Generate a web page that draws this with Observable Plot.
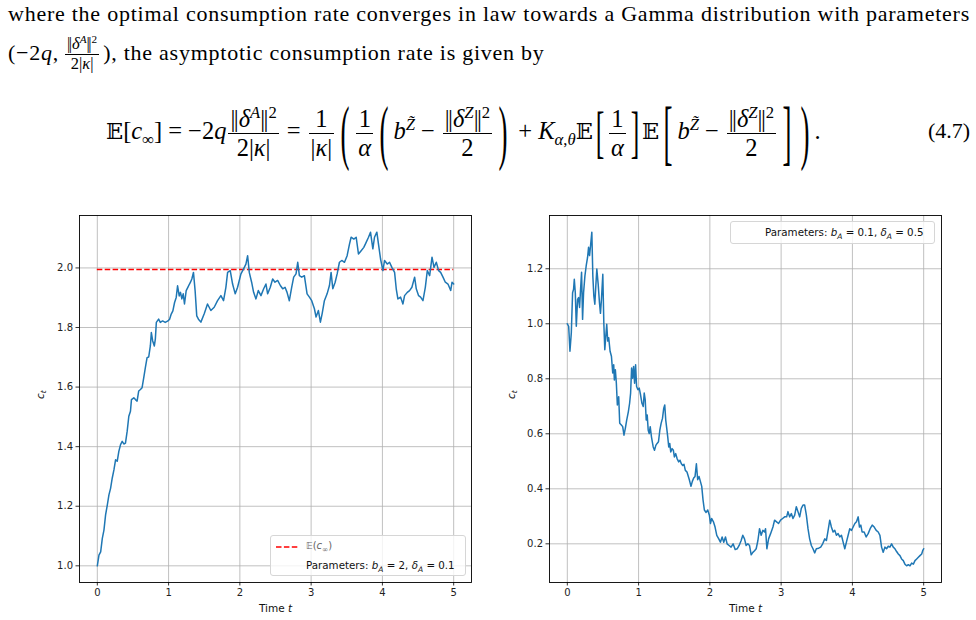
<!DOCTYPE html>
<html>
<head>
<meta charset="utf-8">
<script src="https://cdn.jsdelivr.net/npm/d3@7"></script>
<script src="https://cdn.jsdelivr.net/npm/@observablehq/plot@0.6"></script>
<style>
  body { margin: 0; width: 976px; height: 620px; position: relative; overflow: hidden; background: #fff; color: #000; font-family: "Liberation Serif", "DejaVu Serif", serif; }
  #l1 { position: absolute; left: 8px; top: 1px; width: 962px; font-size: 22px; letter-spacing: 0.75px; line-height: 26px; text-align: justify; text-align-last: justify; }
  #l2 { position: absolute; left: 8px; top: 35px; font-size: 22px; letter-spacing: 0.75px; line-height: 26px; white-space: nowrap; }
  #eq { position: absolute; left: 106px; top: 86px; height: 90px; font-size: 24.5px; white-space: nowrap; line-height: 90px; }
  #eqn { position: absolute; left: 928px; top: 86px; line-height: 90px; font-size: 22px; }
  .frac { display: inline-block; vertical-align: middle; text-align: center; margin: 0 2px; line-height: 1.15; }
  .frac > span { display: block; padding: 0 2px; }
  .frac > span.d { border-top: 1.2px solid #000; }
  .frac.sm { font-size: 16.5px; letter-spacing: 0; margin: 0 4px 0 6px; }
  .nm { letter-spacing: -1.6px; margin-right: 1.6px; }
  sup, sub { font-size: 0.68em; line-height: 0; }
  .bb { font-family: "DejaVu Serif", "DejaVu Sans", serif; font-size: 0.92em; }
  .big { display: inline-block; vertical-align: middle; transform: scale(1.1, 2.95); margin: 0 5px; line-height: 1; }
  .mid { display: inline-block; vertical-align: middle; transform: scale(1.05, 2.3); margin: 0 3px; line-height: 1; }
  .op { margin: 0 6px; }
  .chart { position: absolute; top: 200px; }
  .legend { position: absolute; border: 1px solid #d6d6d6; border-radius: 3px; background: rgba(255,255,255,0.8); font-family: "DejaVu Sans", sans-serif; font-size: 10.3px; color: #111; }
  .legend i { font-style: oblique; }
  .legend sub { font-size: 7.5px; }
  .row { position: absolute; white-space: nowrap; line-height: 12px; }
</style>
</head>
<body>
<div id="l1">where the optimal consumption rate converges in law towards a Gamma distribution with parameters</div>
<div id="l2">(−2<i>q</i>,<span class="frac sm"><span><span class="nm">||</span><i>δ</i><sup><i>A</i></sup><span class="nm">||</span><sup>2</sup></span><span class="d">2|<i>κ</i>|</span></span>), the asymptotic consumption rate is given by</div>
<div id="eq"><span class="bb">𝔼</span>[<i>c</i><sub>∞</sub>]<span class="op">=</span>−2<i>q</i><span class="frac"><span><span class="nm">||</span><i>δ</i><sup><i>A</i></sup><span class="nm">||</span><sup>2</sup></span><span class="d">2|<i>κ</i>|</span></span><span class="op">=</span><span class="frac"><span>1</span><span class="d">|<i>κ</i>|</span></span><span class="big">(</span><span class="frac"><span>1</span><span class="d"><i>α</i></span></span><span class="big">(</span><i>b</i><sup><i>Z̃</i></sup><span class="op">−</span><span class="frac"><span><span class="nm">||</span><i>δ</i><sup><i>Z</i></sup><span class="nm">||</span><sup>2</sup></span><span class="d">2</span></span><span class="big">)</span><span class="op">+</span><i>K</i><sub><i>α</i>,<i>θ</i></sub><span class="bb">𝔼</span><span class="mid">[</span><span class="frac"><span>1</span><span class="d"><i>α</i></span></span><span class="mid">]</span><span class="bb">𝔼</span><span class="big">[</span><i>b</i><sup><i>Z̃</i></sup><span class="op">−</span><span class="frac"><span><span class="nm">||</span><i>δ</i><sup><i>Z</i></sup><span class="nm">||</span><sup>2</sup></span><span class="d">2</span></span><span class="big">]</span><span class="big">)</span>.</div>
<div id="eqn">(4.7)</div>

<div id="left" class="chart" style="left:0px"></div>
<div id="right" class="chart" style="left:490px"></div>

<div class="legend" style="left:270px; top:535px; width:194px; height:39px;">
  <svg style="position:absolute; left:4px; top:9px" width="24" height="4"><line x1="1" y1="2" x2="23" y2="2" stroke="red" stroke-width="1.5" stroke-dasharray="5.5,2.4"/></svg>
  <div class="row" style="left:35px; top:4px; color:#666; font-size:10px;"><span class="bb" style="font-style:italic">𝔼</span>(<i>c</i><sub>∞</sub>)</div>
  <div class="row" style="left:35px; top:23px;">Parameters: <i>b</i><sub><i>A</i></sub> = 2, <i>δ</i><sub><i>A</i></sub> = 0.1</div>
</div>
<div class="legend" style="left:730px; top:221px; width:203px; height:21px;">
  <div class="row" style="left:34px; top:4px;">Parameters: <i>b</i><sub><i>A</i></sub> = 0.1, <i>δ</i><sub><i>A</i></sub> = 0.5</div>
</div>

<script>
// ---- data ----
const xTicks = [0, 1, 2, 3, 4, 5];
const leftYTicks = [1.0, 1.2, 1.4, 1.6, 1.8, 2.0];
const rightYTicks = [0.2, 0.4, 0.6, 0.8, 1.0, 1.2];
const expectedC = 1.995;   // E(c_inf) for b_A = 2, delta_A = 0.1
const xLabel = "Time t";
const yLabel = "c";

// left panel: [t, c_t]
const leftSeries = [
[0,1.0],[0.023,1.036],[0.047,1.047],[0.07,1.092],[0.093,1.12],[0.116,1.171],[0.14,1.204],[0.163,1.238],[0.186,1.26],[0.209,1.294],
[0.233,1.322],[0.256,1.356],[0.279,1.351],[0.302,1.384],[0.326,1.407],[0.349,1.418],[0.372,1.409],[0.395,1.412],[0.419,1.452],[0.442,1.502],
[0.465,1.519],[0.479,1.558],[0.512,1.564],[0.535,1.558],[0.558,1.553],[0.581,1.587],[0.605,1.592],[0.628,1.598],[0.651,1.631],[0.674,1.665],
[0.698,1.699],[0.721,1.701],[0.744,1.738],[0.758,1.783],[0.777,1.755],[0.8,1.738],[0.814,1.761],[0.828,1.817],[0.86,1.828],[0.884,1.817],
[0.916,1.822],[0.953,1.817],[0.991,1.822],[1.014,1.828],[1.037,1.845],[1.06,1.856],[1.084,1.884],[1.107,1.901],[1.126,1.94],[1.149,1.906],
[1.167,1.918],[1.186,1.896],[1.205,1.913],[1.223,1.879],[1.247,1.924],[1.27,1.935],[1.293,1.946],[1.307,1.952],[1.326,1.963],[1.349,1.985],
[1.372,1.924],[1.395,1.839],[1.419,1.828],[1.453,1.818],[1.5,1.846],[1.546,1.879],[1.593,1.857],[1.64,1.868],[1.687,1.89],[1.734,1.907],
[1.771,1.89],[1.804,1.935],[1.828,1.985],[1.865,1.991],[1.898,1.946],[1.935,1.913],[1.968,1.935],[2.015,1.98],[2.052,1.997],[2.085,2.013],
[2.109,2.041],[2.132,1.985],[2.165,1.952],[2.193,1.918],[2.226,1.896],[2.259,1.924],[2.296,1.907],[2.334,1.93],[2.366,1.946],[2.39,1.913],
[2.427,1.935],[2.46,1.963],[2.493,1.952],[2.53,1.958],[2.568,1.941],[2.601,1.93],[2.634,1.935],[2.662,1.918],[2.694,1.89],[2.727,1.935],
[2.755,1.969],[2.788,1.98],[2.812,2.019],[2.835,1.974],[2.868,1.969],[2.905,1.974],[2.943,1.913],[2.976,1.902],[3.008,1.89],[3.046,1.863],
[3.069,1.835],[3.102,1.857],[3.13,1.818],[3.154,1.846],[3.186,1.89],[3.224,1.913],[3.257,1.941],[3.28,1.985],[3.304,1.93],[3.337,1.952],
[3.365,1.98],[3.397,2.019],[3.43,2.025],[3.468,2.019],[3.505,2.041],[3.538,2.08],[3.561,2.103],[3.599,2.097],[3.632,2.103],[3.664,2.047],
[3.702,2.058],[3.739,2.069],[3.772,2.086],[3.805,2.103],[3.833,2.12],[3.866,2.064],[3.889,2.103],[3.922,2.12],[3.945,2.08],[3.974,2.03],
[4.007,1.991],[4.03,2.025],[4.068,2.013],[4.1,2.019],[4.133,2.002],[4.171,1.985],[4.194,1.93],[4.217,1.896],[4.255,1.902],[4.288,1.879],
[4.311,1.907],[4.349,1.918],[4.381,1.924],[4.414,1.935],[4.452,1.969],[4.475,1.93],[4.508,1.907],[4.536,1.902],[4.569,1.89],[4.602,1.935],
[4.63,1.991],[4.663,1.974],[4.696,2.036],[4.724,2.002],[4.756,2.019],[4.789,1.991],[4.817,1.985],[4.85,1.969],[4.883,1.952],[4.92,1.946],
[4.958,1.924],[4.977,1.952],[5.0,1.946]
];

// right panel: [t, c_t]
const rightSeries = [
[0,1.0],[0.019,0.991],[0.037,0.9],[0.056,0.967],[0.074,1.113],[0.088,1.126],[0.098,1.162],[0.112,1.113],[0.126,0.991],[0.144,1.089],
[0.158,1.095],[0.172,1.059],[0.186,1.126],[0.2,1.187],[0.214,1.016],[0.228,1.113],[0.247,1.174],[0.265,1.211],[0.284,1.241],[0.298,1.278],
[0.312,1.248],[0.326,1.284],[0.344,1.333],[0.358,1.174],[0.372,1.101],[0.386,1.071],[0.4,1.138],[0.414,1.199],[0.433,1.144],[0.451,1.077],
[0.465,1.038],[0.479,1.089],[0.498,1.18],[0.512,1.004],[0.526,0.906],[0.54,0.955],[0.553,0.998],[0.567,0.937],[0.581,0.949],[0.6,0.9],
[0.619,0.882],[0.637,0.821],[0.651,0.851],[0.66,0.796],[0.674,0.833],[0.688,0.784],[0.702,0.705],[0.721,0.735],[0.735,0.638],[0.758,0.632],
[0.777,0.626],[0.795,0.595],[0.814,0.62],[0.833,0.65],[0.856,0.68],[0.874,0.711],[0.888,0.748],[0.902,0.839],[0.916,0.802],[0.93,0.845],
[0.944,0.784],[0.958,0.851],[0.972,0.772],[0.991,0.76],[1.009,0.766],[1.028,0.741],[1.047,0.711],[1.065,0.699],[1.079,0.748],[1.093,0.723],
[1.107,0.65],[1.121,0.668],[1.135,0.613],[1.149,0.601],[1.163,0.626],[1.181,0.588],[1.205,0.552],[1.223,0.54],[1.242,0.558],[1.26,0.565],
[1.279,0.571],[1.298,0.613],[1.316,0.638],[1.335,0.656],[1.353,0.693],[1.367,0.705],[1.381,0.65],[1.395,0.62],[1.409,0.589],[1.423,0.552],
[1.437,0.565],[1.451,0.534],[1.47,0.546],[1.488,0.54],[1.502,0.516],[1.521,0.528],[1.54,0.51],[1.563,0.498],[1.581,0.504],[1.6,0.491],
[1.619,0.485],[1.637,0.489],[1.656,0.467],[1.679,0.461],[1.712,0.433],[1.735,0.409],[1.754,0.427],[1.773,0.439],[1.792,0.445],[1.811,0.491],
[1.829,0.433],[1.848,0.445],[1.867,0.427],[1.886,0.409],[1.904,0.36],[1.923,0.323],[1.947,0.314],[1.97,0.323],[1.993,0.304],[2.008,0.274],
[2.026,0.292],[2.05,0.28],[2.073,0.261],[2.097,0.231],[2.125,0.218],[2.148,0.206],[2.172,0.225],[2.195,0.206],[2.219,0.225],[2.242,0.2],
[2.27,0.194],[2.298,0.188],[2.326,0.2],[2.355,0.179],[2.383,0.182],[2.411,0.194],[2.439,0.212],[2.462,0.231],[2.486,0.218],[2.509,0.194],
[2.533,0.2],[2.556,0.194],[2.58,0.16],[2.603,0.169],[2.627,0.175],[2.65,0.182],[2.674,0.212],[2.697,0.255],[2.72,0.231],[2.744,0.249],
[2.767,0.243],[2.781,0.255],[2.8,0.182],[2.824,0.218],[2.852,0.237],[2.885,0.261],[2.908,0.286],[2.936,0.28],[2.964,0.274],[2.992,0.286],
[3.021,0.292],[3.049,0.298],[3.077,0.298],[3.096,0.317],[3.119,0.298],[3.143,0.31],[3.166,0.292],[3.19,0.304],[3.213,0.335],[3.236,0.317],
[3.26,0.298],[3.283,0.329],[3.307,0.341],[3.33,0.341],[3.354,0.304],[3.377,0.255],[3.4,0.218],[3.424,0.194],[3.447,0.182],[3.471,0.167],
[3.494,0.182],[3.527,0.184],[3.555,0.188],[3.583,0.2],[3.612,0.218],[3.635,0.212],[3.659,0.249],[3.682,0.286],[3.705,0.261],[3.729,0.243],
[3.752,0.249],[3.776,0.231],[3.799,0.237],[3.823,0.225],[3.846,0.231],[3.87,0.206],[3.893,0.182],[3.916,0.206],[3.94,0.231],[3.963,0.255],
[3.987,0.249],[4.01,0.261],[4.034,0.274],[4.057,0.28],[4.081,0.298],[4.099,0.261],[4.118,0.268],[4.136,0.243],[4.165,0.243],[4.193,0.225],
[4.221,0.237],[4.249,0.255],[4.278,0.268],[4.306,0.261],[4.334,0.249],[4.362,0.243],[4.386,0.231],[4.409,0.188],[4.432,0.169],[4.456,0.188],
[4.479,0.182],[4.503,0.191],[4.526,0.188],[4.55,0.2],[4.573,0.188],[4.597,0.182],[4.62,0.172],[4.644,0.163],[4.667,0.157],[4.69,0.145],
[4.714,0.139],[4.737,0.126],[4.761,0.12],[4.784,0.124],[4.808,0.12],[4.831,0.13],[4.855,0.126],[4.878,0.139],[4.902,0.145],[4.925,0.151],
[4.948,0.157],[4.972,0.163],[4.986,0.175],[5.0,0.182]
];

// ---- drawing ----
function pad(ext) { const r = ext[1] - ext[0]; return [ext[0] - 0.05 * r, ext[1] + 0.05 * r]; }

function panel(series, yTicks, ml, mr, w, extra, yLabelDx) {
  const gridStyle = { stroke: "#b0b0b0", strokeOpacity: 1, strokeWidth: 0.8 };
  return Plot.plot({
    width: w, height: 420,
    marginLeft: ml, marginRight: mr, marginTop: 15, marginBottom: 38,
    style: { fontFamily: "DejaVu Sans, sans-serif", fontSize: "10px", color: "#222", background: "transparent", overflow: "visible" },
    x: { domain: pad(d3.extent(series, d => d[0])) },
    y: { domain: pad(d3.extent(series, d => d[1])) },
    marks: [
      Plot.gridX(xTicks, gridStyle),
      Plot.gridY(yTicks, gridStyle),
      Plot.axisX(xTicks, { tickSize: 3.5, tickPadding: 3, tickFormat: d => String(d), label: null, stroke: "#000", strokeWidth: 0.8 }),
      Plot.axisY(yTicks, { tickSize: 3.5, tickPadding: 3, tickFormat: d3.format(".1f"), label: null, stroke: "#000", strokeWidth: 0.8 }),
      ...extra,
      Plot.line(series, { x: d => d[0], y: d => d[1], stroke: "#1f77b4", strokeWidth: 1.5 }),
      Plot.frame({ stroke: "#000", strokeWidth: 0.9 }),
      Plot.text([xLabel], { frameAnchor: "bottom", dy: 29, fontSize: 10.5, fill: "#111" }),
      Plot.text([yLabel], { frameAnchor: "left", dx: yLabelDx, rotate: -90, fontSize: 10.5, fill: "#111" })
    ]
  });
}

const leftPlot = panel(leftSeries, leftYTicks, 79, 19, 490, [
  Plot.ruleY([expectedC], { x1: 0, x2: 5, stroke: "red", strokeWidth: 1.5, strokeDasharray: "5.5,2.4" })
], -39);
const rightPlot = panel(rightSeries, rightYTicks, 59, 35, 486, [], -38);

function fixLabels(svg) {
  svg.querySelectorAll("text").forEach(t => {
    if (t.textContent === xLabel) {
      t.innerHTML = 'Time <tspan font-style="italic">t</tspan>';
    } else if (t.textContent === yLabel && t.closest('g[aria-label="text"]')) {
      t.innerHTML = '<tspan font-style="italic">c</tspan><tspan font-style="italic" font-size="7.5" dy="2.5">t</tspan>';
    }
  });
}
fixLabels(leftPlot);
fixLabels(rightPlot);
document.getElementById("left").appendChild(leftPlot);
document.getElementById("right").appendChild(rightPlot);
</script>
</body>
</html>
